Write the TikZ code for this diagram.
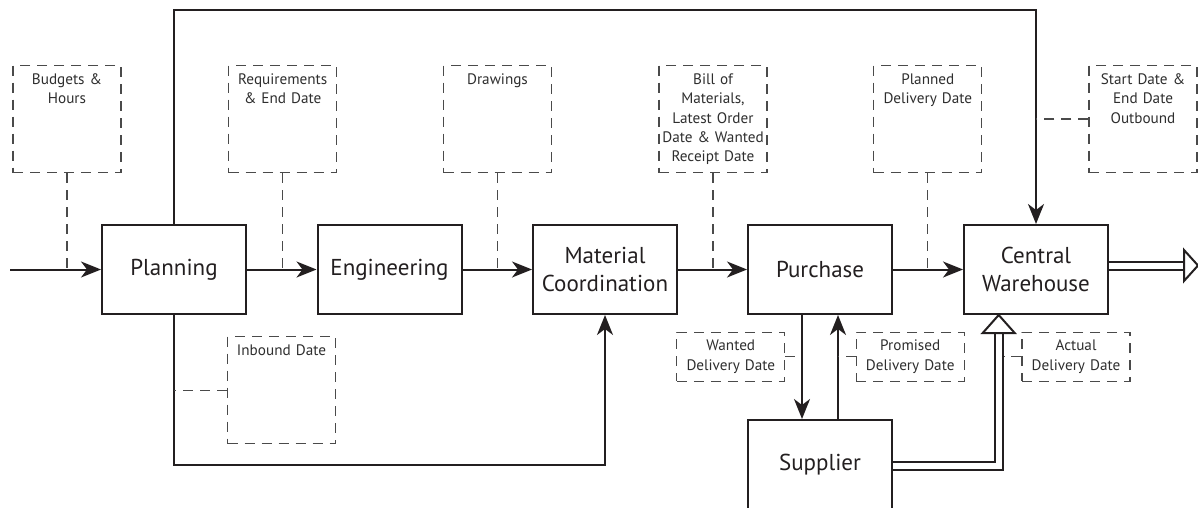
\documentclass[tikz,border=0pt]{standalone}
\usepackage{fontspec}
\setmainfont{PT Sans}
\usetikzlibrary{arrows.meta}
\definecolor{ink}{HTML}{231F20}
\definecolor{dashink}{HTML}{4A4A4A}
\definecolor{noteink}{HTML}{2E2E2E}
\begin{document}
\begin{tikzpicture}[x=1pt,y=-1pt,
  proc/.style={draw=ink, line width=2pt, minimum width=144pt, minimum height=89pt,
    inner sep=0pt, align=center, text=ink, font=\fontsize{23}{28.7}\selectfont},
  info/.style={draw=dashink, line width=1.1pt, dash pattern=on 10pt off 7pt,
    minimum width=108pt, text width=108pt, inner sep=0pt, align=center,
    text=noteink, font=\fontsize{15.2}{19.3}\selectfont},
  infotall/.style={info, text height=19pt, text depth=88pt, anchor=north},
  infoshort/.style={info, minimum height=49pt},
  flow/.style={draw=ink, line width=2pt, -{Stealth[length=20pt,width=16pt,inset=6pt]}},
  link/.style={draw=dashink, line width=1.1pt, dash pattern=on 10pt off 7pt},
  dbl/.style={draw=ink, line width=2pt, double=white, double distance=6pt},
  hollowtip/.style={draw=ink, line width=2pt, fill=white, line join=miter},
]
\useasboundingbox (0,0) rectangle (1198,508);

% process boxes
\node[proc] (plan) at (174,269.5) {Planning};
\node[proc] (eng)  at (389.5,269.5) {Engineering};
\node[proc] (mat)  at (605,269.5) {Material\\Coordination};
\node[proc] (pur)  at (820,269.5) {Purchase};
\node[proc] (cw)   at (1036,269.5) {Central\\Warehouse};
\node[proc] (sup)  at (820,464.5) {Supplier};

% information boxes above the flow
\node[infotall] (budget)  at (67,65)    {Budgets \&\\Hours};
\node[infotall] (req)     at (282.7,65) {Requirements\\\& End Date};
\node[infotall] (drw)     at (497.5,65) {Drawings};
\node[infotall] (bom)     at (713,65)   {Bill of\\Materials,\\Latest Order\\Date \& Wanted\\Receipt Date};
\node[infotall] (planned) at (927.8,65) {Planned\\Delivery Date};
\node[infotall] (start)   at (1143,65)  {Start Date \&\\End Date\\Outbound};

% information boxes below the flow
\node[infotall] (inbound) at (281.5,336) {Inbound Date};
\node[infoshort] (wanted)   at (730.8,356.7) {Wanted\\Delivery Date};
\node[infoshort] (promised) at (910.2,356.7) {Promised\\Delivery Date};
\node[infoshort] (actual)   at (1076,356.7)  {Actual\\Delivery Date};

% helper coordinates
\coordinate (src)  at (10,269.5);
\coordinate (topy) at (0,10);
\coordinate (boty) at (0,464.5);
\coordinate (pdown) at ([xshift=-18pt]pur.south);
\coordinate (pup)   at ([xshift=18pt]pur.south);
\coordinate (tribase) at (998.7,333);
\coordinate (dblright) at ([xshift=5pt]tribase);
\coordinate (outbase) at (1184,265.5);

% main flow
\draw[flow] (src) -- (plan);
\draw[flow] (plan) -- (eng);
\draw[flow] (eng) -- (mat);
\draw[flow] (mat) -- (pur);
\draw[flow] (pur) -- (cw);
\draw[flow] (plan.north) -- (plan.north |- topy) -| (cw.north);
\draw[flow] (plan.south) -- (plan.south |- boty) -| (mat.south);
\draw[flow] (pdown) -- (pdown |- sup.north);
\draw[flow] (sup.north -| pup) -- (pup);

% dashed attachments
\draw[link] (budget.south) -- (budget.south |- plan.west);
\draw[link] (req.south) -- (req.south |- plan.east);
\draw[link] (drw.south) -- (drw.south |- eng.east);
\draw[link] (bom.south) -- (bom.south |- mat.east);
\draw[link] (planned.south) -- (planned.south |- pur.east);
\draw[link] (start.west) -- (start.west -| cw.north);
\draw[link] (inbound.west) -- (inbound.west -| plan.south);
\draw[link] (wanted.east) -- (wanted.east -| pdown);
\draw[link] (promised.west) -- (promised.west -| pup);
\draw[link] (actual.west) -- (actual.west -| dblright);

% physical goods flow (double lines with hollow heads)
\draw[dbl] ([yshift=-1.5pt]sup.east) -| (tribase);
\draw[hollowtip] ([xshift=-16pt]tribase) -- (tribase |- cw.south) -- ([xshift=16pt]tribase) -- cycle;
\draw[dbl] ([yshift=4pt]cw.east) -- (outbase);
\draw[hollowtip] ([yshift=15.5pt]outbase) -- ([xshift=14pt]outbase) -- ([yshift=-15.5pt]outbase) -- cycle;
\end{tikzpicture}
\end{document}
